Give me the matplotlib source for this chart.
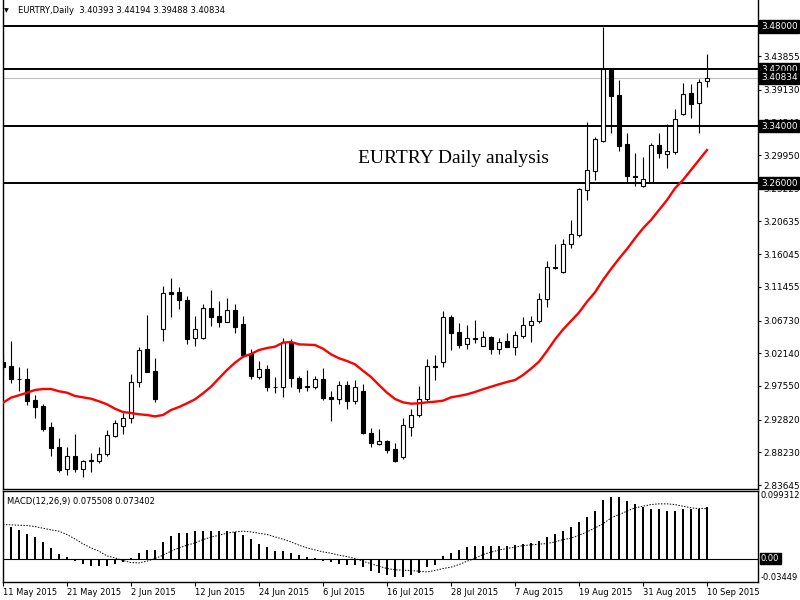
import numpy as np
import pandas as pd
import matplotlib
matplotlib.use("Agg")
import matplotlib.pyplot as plt
import matplotlib.transforms as mtransforms

# EURTRY daily bars, 11 May 2015 .. 10 Sep 2015
dates = pd.bdate_range("2015-05-11", "2015-09-10")

opens = [3.0095, 3.0035, 2.9852, 2.9852, 2.9558, 2.9473, 2.9175, 2.8894, 2.8585, 2.8772,
         2.8585, 2.8700, 2.8706, 2.8796, 2.9057, 2.9197, 2.9301, 2.9806, 3.0269, 2.9965,
         3.0550, 3.1068, 3.1069, 3.0961, 3.0423, 3.0423, 3.0844, 3.0737, 3.0657, 3.0821,
         3.0624, 3.0203, 2.9884, 2.9993, 2.9745, 2.9744, 3.0358, 2.9862, 2.9754, 2.9744,
         2.9852, 2.9604, 2.9567, 2.9764, 2.9548, 2.9684, 2.9090, 2.8944, 2.8982, 2.8870,
         2.8753, 2.9183, 2.9347, 2.9567, 3.0035, 3.0086, 3.0718, 3.0508, 3.0339, 3.0432,
         3.0320, 3.0442, 3.0269, 3.0386, 3.0306, 3.0456, 3.0606, 3.0666, 3.0971, 3.1426,
         3.1350, 3.1743, 3.1873, 3.2505, 3.2772, 3.3197, 3.4200, 3.3838, 3.3150, 3.2703,
         3.2561, 3.2621, 3.3136, 3.3006, 3.3043, 3.3571, 3.3862, 3.3722, 3.40393]
highs = [3.0203, 3.0386, 3.0017, 3.0002, 2.9628, 2.9501, 2.9245, 2.9020, 2.8894, 2.9080,
         2.8716, 2.8818, 2.8894, 2.9137, 2.9277, 2.9379, 2.9922, 3.0306, 3.0751, 3.0143,
         3.1158, 3.1266, 3.1148, 3.1017, 3.0737, 3.0905, 3.1101, 3.0947, 3.0985, 3.0905,
         3.0737, 3.0269, 3.0105, 3.0049, 2.9876, 3.0423, 3.0414, 2.9894, 2.9979, 2.9894,
         3.0002, 2.9684, 2.9824, 2.9824, 2.9838, 2.9782, 2.9160, 2.9146, 2.8996, 2.8950,
         2.9301, 2.9427, 2.9754, 3.0129, 3.0189, 3.0807, 3.0751, 3.0634, 3.0610, 3.0680,
         3.0526, 3.0456, 3.0432, 3.0494, 3.0526, 3.0718, 3.0741, 3.1055, 3.1508, 3.1747,
         3.1813, 3.2084, 3.2529, 3.3464, 3.3253, 3.4797, 3.4215, 3.4049, 3.3301, 3.3020,
         3.2972, 3.3169, 3.3301, 3.3427, 3.3638, 3.4011, 3.3988, 3.4059, 3.44194]
lows = [2.9894, 2.9800, 2.9688, 2.9487, 2.9301, 2.9127, 2.8776, 2.8551, 2.8505, 2.8551,
        2.8473, 2.8551, 2.8678, 2.8776, 2.9034, 2.9080, 2.9239, 2.9744, 2.9947, 2.9525,
        3.0386, 3.0719, 3.0831, 3.0344, 3.0316, 3.0414, 3.0596, 3.0586, 3.0650, 3.0502,
        3.0157, 2.9852, 2.9852, 2.9688, 2.9660, 2.9595, 2.9744, 2.9666, 2.9688, 2.9712,
        2.9557, 2.9267, 2.9497, 2.9431, 2.9497, 2.9080, 2.8901, 2.8926, 2.8810, 2.8692,
        2.8725, 2.9052, 2.9315, 2.9543, 2.9838, 3.0025, 3.0259, 3.0283, 3.0273, 3.0362,
        3.0315, 3.0207, 3.0199, 3.0300, 3.0189, 3.0423, 3.0376, 3.0634, 3.0867, 3.1400,
        3.1344, 3.1695, 3.1849, 3.2364, 3.2645, 3.3180, 3.3301, 3.3057, 3.2599, 3.2561,
        3.2551, 3.2613, 3.2950, 3.2818, 3.3006, 3.3558, 3.3520, 3.3309, 3.39488]
closes = [3.0025, 2.9848, 2.9850, 2.9548, 2.9464, 2.9151, 2.8888, 2.8575, 2.8772, 2.8594,
          2.8697, 2.8712, 2.8800, 2.9066, 2.9231, 2.9301, 2.9806, 3.0259, 2.9955, 2.9567,
          3.1055, 3.1050, 3.0957, 3.0414, 3.0550, 3.0844, 3.0727, 3.0657, 3.0821, 3.0586,
          3.0189, 2.9894, 2.9993, 2.9744, 2.9735, 3.0367, 2.9862, 2.9730, 2.9735, 2.9852,
          2.9581, 2.9567, 2.9764, 2.9548, 2.9744, 2.9090, 2.8950, 2.8978, 2.8856, 2.8706,
          2.9202, 2.9343, 2.9567, 3.0035, 3.0017, 3.0718, 3.0502, 3.0330, 3.0432, 3.0410,
          3.0442, 3.0269, 3.0367, 3.0306, 3.0470, 3.0606, 3.0666, 3.0971, 3.1420, 3.1406,
          3.1743, 3.1883, 3.2515, 3.2786, 3.3221, 3.4200, 3.3824, 3.3122, 3.2706, 3.2685,
          3.2655, 3.3136, 3.3020, 3.3052, 3.3501, 3.3852, 3.3708, 3.4021, 3.40834]

# red moving average as drawn on the chart
ma = [2.9520, 2.9590, 2.9624, 2.9660, 2.9698, 2.9712, 2.9712, 2.9680, 2.9660, 2.9614,
      2.9595, 2.9576, 2.9539, 2.9497, 2.9435, 2.9389, 2.9375, 2.9357, 2.9347, 2.9328,
      2.9347, 2.9417, 2.9459, 2.9511, 2.9567, 2.9651, 2.9744, 2.9862, 2.9979, 3.0081,
      3.0165, 3.0203, 3.0259, 3.0287, 3.0306, 3.0362, 3.0372, 3.0339, 3.0334, 3.0329,
      3.0278, 3.0199, 3.0143, 3.0105, 3.0058, 2.9968, 2.9881, 2.9768, 2.9660, 2.9572,
      2.9525, 2.9506, 2.9511, 2.9525, 2.9534, 2.9548, 2.9595, 2.9614, 2.9637, 2.9670,
      2.9708, 2.9744, 2.9778, 2.9810, 2.9838, 2.9908, 2.9997, 3.0095, 3.0245, 3.0407,
      3.0547, 3.0666, 3.0786, 3.0937, 3.1069, 3.1242, 3.1396, 3.1541, 3.1677, 3.1827,
      3.1967, 3.2084, 3.2224, 3.2364, 3.2529, 3.2645, 3.2786, 3.2926, 3.3066]

# MACD(12,26,9) main histogram and signal
macd = [0.0510, 0.0470, 0.0426, 0.0368, 0.0319, 0.0245, 0.0162, 0.0074, 0.0029, -0.0039,
        -0.0078, -0.0108, -0.0108, -0.0108, -0.0078, -0.0049, 0.0010, 0.0088, 0.0132, 0.0132,
        0.0250, 0.0338, 0.0377, 0.0382, 0.0402, 0.0412, 0.0412, 0.0412, 0.0412, 0.0397,
        0.0343, 0.0284, 0.0221, 0.0167, 0.0118, 0.0118, 0.0088, 0.0059, 0.0029, 0.0010,
        -0.0039, -0.0049, -0.0074, -0.0088, -0.0088, -0.0127, -0.0186, -0.0216, -0.0245, -0.0274,
        -0.0274, -0.0245, -0.0211, -0.0127, -0.0088, 0.0034, 0.0083, 0.0132, 0.0167, 0.0181,
        0.0191, 0.0191, 0.0191, 0.0191, 0.0206, 0.0216, 0.0230, 0.0255, 0.0319, 0.0363,
        0.0412, 0.0466, 0.0539, 0.0617, 0.0706, 0.0858, 0.0911, 0.0911, 0.0853, 0.0804,
        0.0755, 0.0735, 0.0725, 0.0696, 0.0696, 0.0725, 0.0725, 0.0735, 0.075508]
signal = [0.0500, 0.0495, 0.0490, 0.0485, 0.0470, 0.0446, 0.0421, 0.0402, 0.0353, 0.0289,
          0.0216, 0.0157, 0.0108, 0.0039, 0.0010, -0.0029, -0.0059, -0.0064, -0.0039, 0.0000,
          0.0049, 0.0108, 0.0157, 0.0196, 0.0230, 0.0279, 0.0314, 0.0343, 0.0372, 0.0392,
          0.0402, 0.0392, 0.0372, 0.0353, 0.0319, 0.0284, 0.0245, 0.0196, 0.0157, 0.0127,
          0.0098, 0.0078, 0.0049, 0.0029, 0.0000, -0.0039, -0.0078, -0.0113, -0.0147, -0.0165,
          -0.0170, -0.0177, -0.0186, -0.0196, -0.0176, -0.0147, -0.0127, -0.0088, -0.0039, 0.0000,
          0.0059, 0.0093, 0.0127, 0.0147, 0.0167, 0.0191, 0.0201, 0.0211, 0.0221, 0.0245,
          0.0279, 0.0299, 0.0343, 0.0392, 0.0451, 0.0510, 0.0598, 0.0647, 0.0696, 0.0745,
          0.0769, 0.0794, 0.0804, 0.0804, 0.0794, 0.0769, 0.0745, 0.0735, 0.073402]

levels = [3.48, 3.42, 3.34, 3.26]
last_price = 3.40834
price_ticks = [2.83645, 2.88230, 2.92820, 2.97550, 3.02140, 3.06730, 3.11455, 3.16045,
               3.20635, 3.25225, 3.29950, 3.34540, 3.39130, 3.43855, 3.48445]
date_labels = ["11 May 2015", "21 May 2015", "2 Jun 2015", "12 Jun 2015", "24 Jun 2015",
               "6 Jul 2015", "16 Jul 2015", "28 Jul 2015", "7 Aug 2015", "19 Aug 2015",
               "31 Aug 2015", "10 Sep 2015"]
macd_top = 0.099312
macd_bottom = -0.03449

plt.rcParams['font.family'] = ['DejaVu Sans']

x = np.arange(len(dates))
o = np.array(opens)
h = np.array(highs)
l = np.array(lows)
c = np.array(closes)

fig = plt.figure(figsize=(8, 6), dpi=100)
W, H = 800.0, 600.0
ax = fig.add_axes([2.5 / W, 1 - 489 / H, 755 / W, 489 / H])
ax2 = fig.add_axes([2.5 / W, 1 - 582 / H, 755 / W, 91 / H])

xlim = (-0.0625, 94.3125)

# --- price panel ---
ax.vlines(x, l, h, color='black', lw=0.8, zorder=2)
up = c >= o
bottoms = np.minimum(o, c)
heights = np.maximum(np.abs(c - o), 0.0004)
ax.bar(x[up], heights[up], bottom=bottoms[up], width=0.55, color='white',
       edgecolor='black', linewidth=0.8, zorder=3)
ax.bar(x[~up], heights[~up], bottom=bottoms[~up], width=0.55, color='black',
       edgecolor='black', linewidth=0.8, zorder=3)
ax.plot(x, ma, color='#ff0000', lw=1.7, zorder=4)

for lv in levels:
    ax.axhline(lv, color='black', lw=1.4, zorder=1)
ax.axhline(last_price, color='#c0c0c0', lw=0.8, zorder=1)

ax.set_xlim(*xlim)
ax.set_ylim(2.83084, 3.51715)
ax.set_xticks([])
ax.yaxis.tick_right()
ax.set_yticks(price_ticks)
ax.set_yticklabels([f"{v:.5f}" for v in price_ticks], fontsize=6.4)
ax.tick_params(axis='y', length=2.5, width=0.8, pad=1.5)
ax.spines['top'].set_visible(False)
for s in ['left', 'right', 'bottom']:
    ax.spines[s].set_linewidth(1.0)

trans = mtransforms.blended_transform_factory(ax.transAxes, ax.transData)
for lv in levels + [last_price]:
    ax.text(1.0046, lv, f"{lv:.5f}", transform=trans, color='white', fontsize=6.4,
            va='center', ha='left', clip_on=False, zorder=10,
            bbox=dict(facecolor='black', edgecolor='black', pad=1.2))

ax.text(0.4706, 3.2940, "EURTRY Daily analysis", transform=trans,
        family='Liberation Serif', fontsize=14, va='center', ha='left')

fig.text(4 / W, 1 - 10.5 / H, "\u25bc", fontsize=4.5, va='center', ha='left')
fig.text(18 / W, 1 - 10.5 / H, "EURTRY,Daily  3.40393 3.44194 3.39488 3.40834",
         fontsize=6.0, va='center', ha='left')

# --- MACD panel ---
ax2.bar(x, macd, width=0.35, color='black', zorder=3)
ax2.plot(x, signal, color='black', lw=0.7, ls=(0, (1.5, 1.5)), zorder=4)
ax2.axhline(0, color='black', lw=0.8, zorder=2)
ax2.set_xlim(*xlim)
ax2.set_ylim(macd_bottom, macd_top)
ax2.set_yticks([])
ax2.set_xticks(x[::8])
ax2.set_xticklabels(date_labels, fontsize=6.0, ha='left')
ax2.tick_params(axis='x', length=3, width=0.8, pad=1.5)
for s in ax2.spines.values():
    s.set_linewidth(1.0)

trans2 = mtransforms.blended_transform_factory(ax2.transAxes, ax2.transData)
ax2.text(1.0046, macd_top, f"{macd_top:.6f}", transform=trans2, fontsize=6.0,
         va='top', ha='left', clip_on=False)
ax2.text(1.0046, macd_bottom, f"{macd_bottom:.5f}", transform=trans2, fontsize=6.0,
         va='bottom', ha='left', clip_on=False)
ax2.text(1.0046, 0, "0.00", transform=trans2, color='white', fontsize=6.0,
         va='center', ha='left', clip_on=False, zorder=10,
         bbox=dict(facecolor='black', edgecolor='black', pad=1.0))
ax2.text(0.006, 0.93, f"MACD(12,26,9) {macd[-1]:.6f} {signal[-1]:.6f}",
         transform=ax2.transAxes, fontsize=6.0, va='top', ha='left')

fig.savefig("out.png", dpi=100)
